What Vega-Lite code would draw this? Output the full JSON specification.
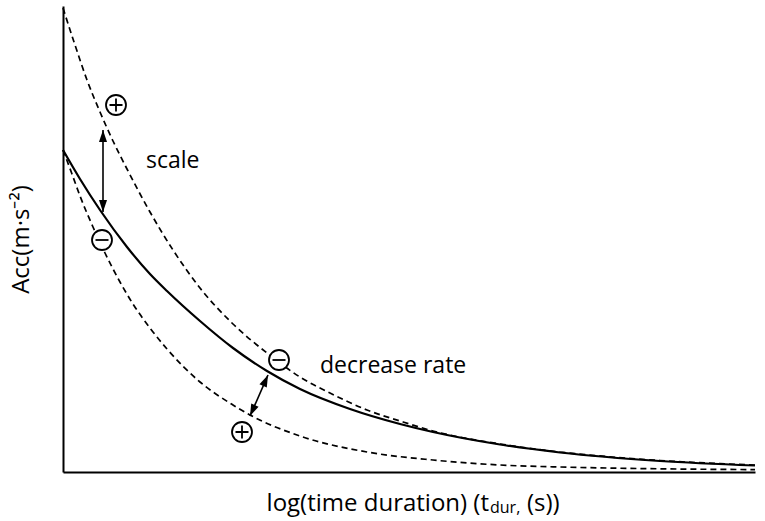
{
  "$schema": "https://vega.github.io/schema/vega-lite/v6.json",
  "width": 692,
  "height": 466,
  "autosize": {"type": "none"},
  "padding": {"left": 63, "top": 6, "right": 10, "bottom": 49},
  "background": "white",
  "config": {
    "view": {"stroke": null},
    "font": "Open Sans",
    "axis": {
      "domainColor": "black",
      "domainWidth": 2,
      "ticks": false,
      "labels": false,
      "grid": false,
      "titleFont": "Open Sans",
      "titleFontSize": 24,
      "titleFontWeight": "normal",
      "titleColor": "black"
    }
  },
  "datasets": {
    "curves": [
      {"c": "upper", "x": 0, "y": 464},
      {"c": "upper", "x": 12, "y": 427},
      {"c": "upper", "x": 24, "y": 392},
      {"c": "upper", "x": 37, "y": 360},
      {"c": "upper", "x": 50, "y": 331},
      {"c": "upper", "x": 64, "y": 303},
      {"c": "upper", "x": 87, "y": 260},
      {"c": "upper", "x": 110, "y": 222},
      {"c": "upper", "x": 137, "y": 184},
      {"c": "upper", "x": 170, "y": 148},
      {"c": "upper", "x": 204, "y": 119},
      {"c": "upper", "x": 237, "y": 95},
      {"c": "upper", "x": 267, "y": 79},
      {"c": "upper", "x": 304, "y": 62},
      {"c": "upper", "x": 337, "y": 51},
      {"c": "upper", "x": 370, "y": 41},
      {"c": "upper", "x": 437, "y": 28},
      {"c": "upper", "x": 497, "y": 20},
      {"c": "upper", "x": 597, "y": 11.5},
      {"c": "upper", "x": 692, "y": 7},
      {"c": "solid", "x": 0, "y": 322},
      {"c": "solid", "x": 17, "y": 293},
      {"c": "solid", "x": 37, "y": 262},
      {"c": "solid", "x": 64, "y": 225},
      {"c": "solid", "x": 87, "y": 198},
      {"c": "solid", "x": 104, "y": 181},
      {"c": "solid", "x": 137, "y": 151},
      {"c": "solid", "x": 170, "y": 124},
      {"c": "solid", "x": 204, "y": 101},
      {"c": "solid", "x": 237, "y": 83},
      {"c": "solid", "x": 287, "y": 63},
      {"c": "solid", "x": 337, "y": 48},
      {"c": "solid", "x": 370, "y": 40},
      {"c": "solid", "x": 437, "y": 27.5},
      {"c": "solid", "x": 497, "y": 19.5},
      {"c": "solid", "x": 597, "y": 11},
      {"c": "solid", "x": 692, "y": 6.5},
      {"c": "lower", "x": 0, "y": 322},
      {"c": "lower", "x": 9, "y": 298},
      {"c": "lower", "x": 17, "y": 276},
      {"c": "lower", "x": 30, "y": 245},
      {"c": "lower", "x": 42, "y": 219},
      {"c": "lower", "x": 57, "y": 190},
      {"c": "lower", "x": 70, "y": 168},
      {"c": "lower", "x": 87, "y": 144},
      {"c": "lower", "x": 104, "y": 123},
      {"c": "lower", "x": 137, "y": 90},
      {"c": "lower", "x": 170, "y": 67},
      {"c": "lower", "x": 187, "y": 57},
      {"c": "lower", "x": 237, "y": 36},
      {"c": "lower", "x": 304, "y": 20},
      {"c": "lower", "x": 370, "y": 12},
      {"c": "lower", "x": 437, "y": 7},
      {"c": "lower", "x": 497, "y": 5},
      {"c": "lower", "x": 597, "y": 3.2},
      {"c": "lower", "x": 692, "y": 2.4}
    ],
    "signs": [
      {"sign": "plus", "x": 53, "y": 367},
      {"sign": "minus", "x": 39, "y": 232},
      {"sign": "minus", "x": 216, "y": 112},
      {"sign": "plus", "x": 179, "y": 40}
    ],
    "arrows": [
      {"x": 40, "y": 342, "x2": 40, "y2": 260},
      {"x": 205, "y": 97, "x2": 187, "y2": 56}
    ],
    "heads": [
      {"x": 40, "y": 342, "angle": 0},
      {"x": 40, "y": 260, "angle": 180},
      {"x": 205, "y": 97, "angle": 24},
      {"x": 187, "y": 56, "angle": 204}
    ],
    "labels": [
      {"text": "scale", "x": 83, "y": 304, "size": 23, "align": "left"},
      {"text": "decrease rate", "x": 257, "y": 99, "size": 23, "align": "left"},
      {"text": "log(time duration) (t", "x": 426, "y": -39, "size": 24, "align": "right"},
      {"text": "dur,", "x": 427, "y": -41, "size": 16, "align": "left"},
      {"text": "(s))", "x": 464, "y": -39, "size": 24, "align": "left"}
    ]
  },
  "encoding": {
    "x": {
      "field": "x",
      "type": "quantitative",
      "scale": {"domain": [0, 692], "nice": false, "zero": false},
      "axis": {"title": null}
    },
    "y": {
      "field": "y",
      "type": "quantitative",
      "scale": {"domain": [0, 466], "nice": false, "zero": false},
      "axis": {"title": "Acc(m·s⁻²)", "titlePadding": 35, "titleBaseline": "alphabetic"}
    }
  },
  "layer": [
    {
      "data": {"name": "curves"},
      "transform": [{"filter": "datum.c == 'solid'"}],
      "mark": {"type": "line", "color": "black", "strokeWidth": 2.2, "interpolate": "monotone"}
    },
    {
      "data": {"name": "curves"},
      "transform": [{"filter": "datum.c != 'solid'"}],
      "mark": {"type": "line", "color": "black", "strokeWidth": 1.7, "strokeDash": [6, 4], "interpolate": "monotone"},
      "encoding": {"detail": {"field": "c"}}
    },
    {
      "data": {"name": "signs"},
      "mark": {"type": "point", "shape": "circle", "size": 400, "filled": true, "fill": "white", "stroke": "black", "strokeWidth": 1.8, "opacity": 1}
    },
    {
      "data": {"name": "signs"},
      "mark": {"type": "point", "size": 169, "filled": false, "stroke": "black", "strokeWidth": 1.8, "opacity": 1},
      "encoding": {
        "shape": {
          "field": "sign",
          "scale": {"domain": ["plus", "minus"], "range": ["M-1,0L1,0M0,-1L0,1", "M-1,0L1,0"]},
          "legend": null
        }
      }
    },
    {
      "data": {"name": "arrows"},
      "mark": {"type": "rule", "color": "black", "strokeWidth": 1.6},
      "encoding": {"x2": {"field": "x2"}, "y2": {"field": "y2"}}
    },
    {
      "data": {"name": "heads"},
      "mark": {"type": "point", "shape": "M0,0L0.67,2L-0.67,2Z", "size": 144, "filled": true, "color": "black", "opacity": 1},
      "encoding": {"angle": {"field": "angle", "type": "quantitative", "scale": null}}
    },
    {
      "data": {"name": "labels"},
      "transform": [{"filter": "datum.align == 'left'"}],
      "mark": {"type": "text", "align": "left", "baseline": "alphabetic", "color": "black", "clip": false, "font": "Open Sans"},
      "encoding": {
        "text": {"field": "text"},
        "size": {"field": "size", "type": "quantitative", "scale": null}
      }
    },
    {
      "data": {"name": "labels"},
      "transform": [{"filter": "datum.align == 'right'"}],
      "mark": {"type": "text", "align": "right", "baseline": "alphabetic", "color": "black", "clip": false, "font": "Open Sans"},
      "encoding": {
        "text": {"field": "text"},
        "size": {"field": "size", "type": "quantitative", "scale": null}
      }
    }
  ]
}
